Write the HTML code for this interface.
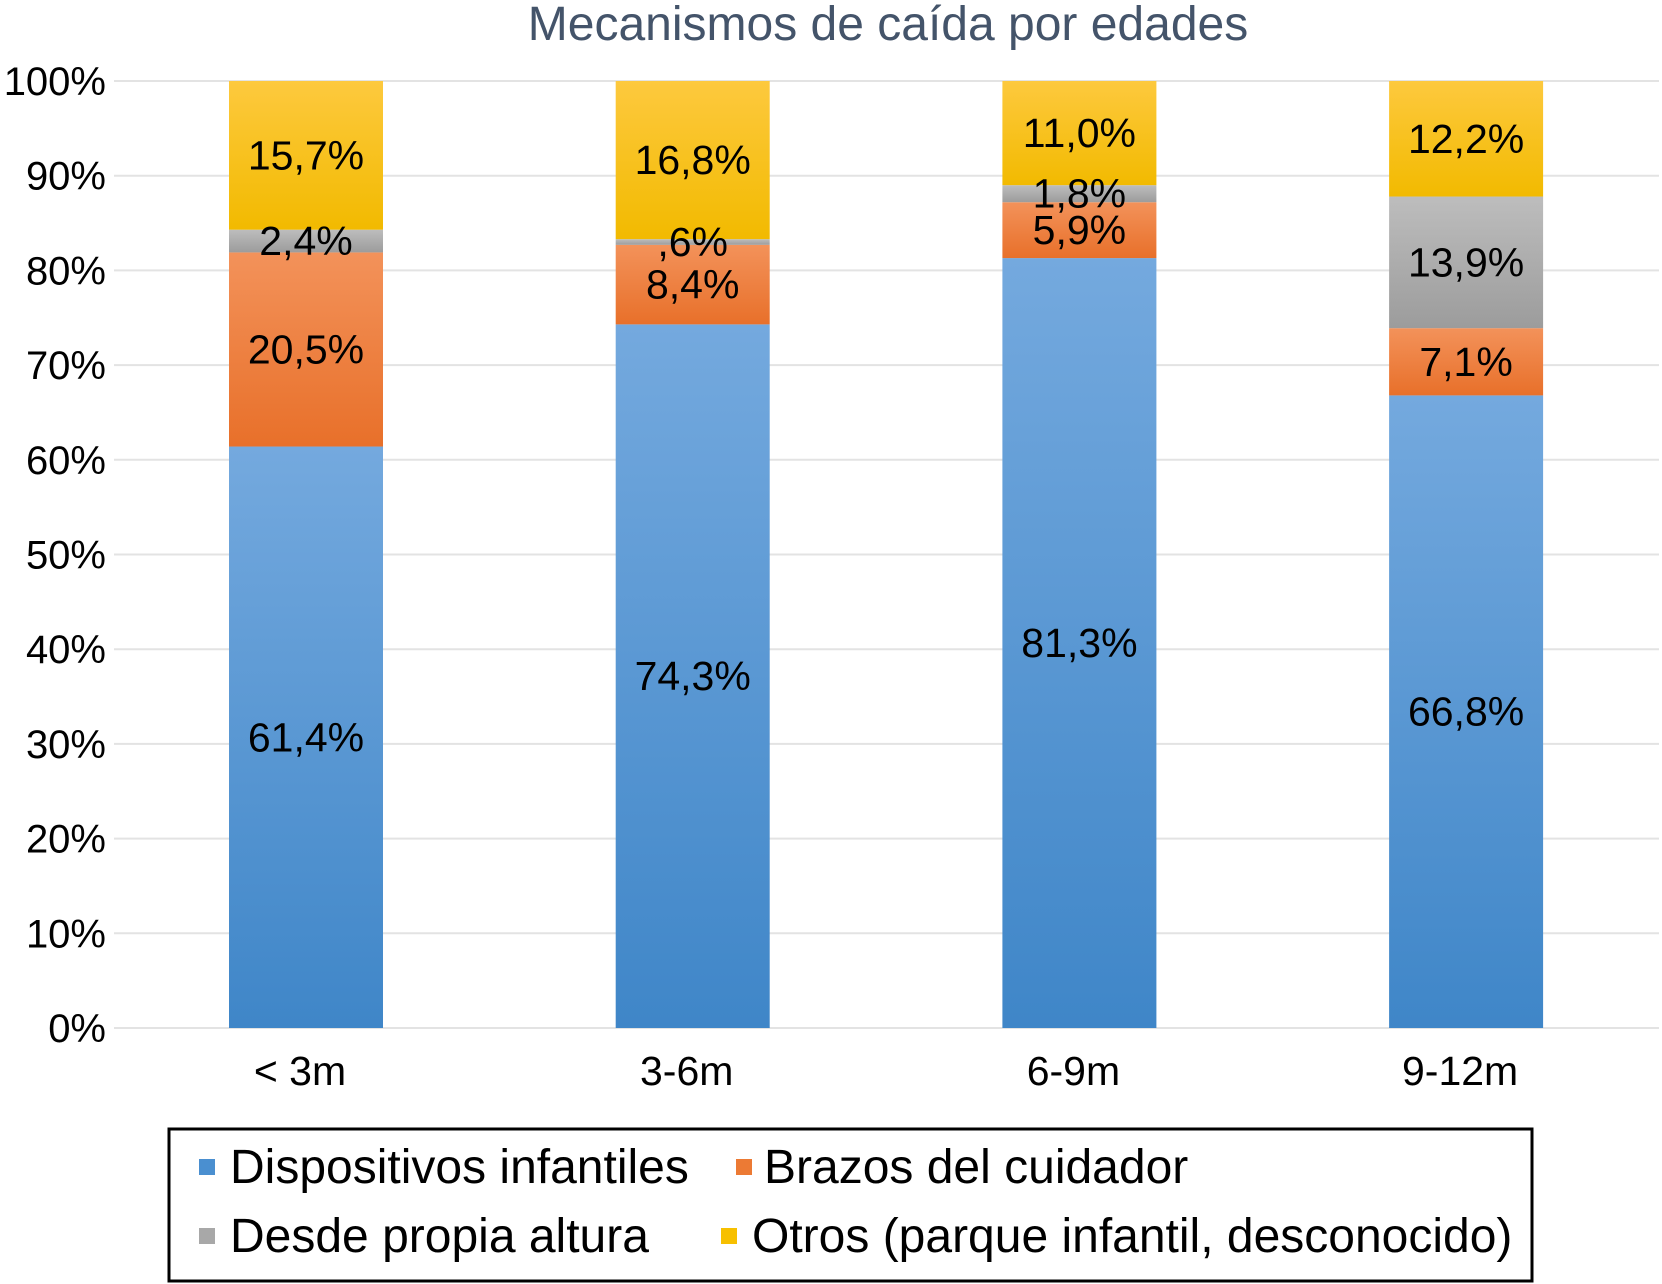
<!DOCTYPE html>
<html><head><meta charset="utf-8"><style>
body{margin:0;background:#fff;}
svg{display:block;font-family:"Liberation Sans",Arial,sans-serif;}
</style></head><body>
<svg id="chart" width="1662" height="1284" viewBox="0 0 1662 1284">
<defs>
<linearGradient id="gBlue" x1="0" y1="0" x2="0" y2="1"><stop offset="0" stop-color="#74a9de"/><stop offset="1" stop-color="#3f86c8"/></linearGradient>
<linearGradient id="gOrange" x1="0" y1="0" x2="0" y2="1"><stop offset="0" stop-color="#f3925a"/><stop offset="1" stop-color="#e8702a"/></linearGradient>
<linearGradient id="gGray" x1="0" y1="0" x2="0" y2="1"><stop offset="0" stop-color="#bdbdbd"/><stop offset="1" stop-color="#9c9c9c"/></linearGradient>
<linearGradient id="gYellow" x1="0" y1="0" x2="0" y2="1"><stop offset="0" stop-color="#fdc93e"/><stop offset="1" stop-color="#f2ba00"/></linearGradient>
</defs>
<text x="888" y="40" text-anchor="middle" font-size="48" fill="#44546a">Mecanismos de caída por edades</text>
<g id="grid"></g><g id="bars"></g><g id="labels"></g>
<g>
<rect x="169" y="1129" width="1363" height="152" fill="#fff" stroke="#000" stroke-width="3"/>
<rect x="199" y="1159" width="16" height="16" fill="#4a8fd0"/>
<text x="230" y="1183" font-size="48">Dispositivos infantiles</text>
<rect x="736" y="1159" width="16" height="16" fill="#ec7a34"/>
<text x="764" y="1183" font-size="48">Brazos del cuidador</text>
<rect x="199" y="1228" width="16" height="16" fill="#a8a8a8"/>
<text x="230" y="1252" font-size="48">Desde propia altura</text>
<rect x="721" y="1228" width="16" height="16" fill="#f7c000"/>
<text x="752" y="1252" font-size="48">Otros (parque infantil, desconocido)</text>
</g>
</svg>
<script>
const categories = ["< 3m", "3-6m", "6-9m", "9-12m"];
const dispositivos = [61.4, 74.3, 81.3, 66.8];
const brazos = [20.5, 8.4, 5.9, 7.1];
const desde = [2.4, 0.6, 1.8, 13.9];
const otros = [15.7, 16.8, 11.0, 12.2];
const yTicks = [0, 10, 20, 30, 40, 50, 60, 70, 80, 90, 100];

const NS = "http://www.w3.org/2000/svg";
const y0 = 1028, y100 = 81, plotL = 114, plotR = 1659;
const barW = 154;
function yScale(v){ return y0 - (v / 100) * (y0 - y100); }
function xCenter(i){ return 306 + i * 386.7; }
function fmt(v){ let s = v.toFixed(1).replace('.', ','); if (s.startsWith('0,')) s = s.slice(1); return s + '%'; }
function mk(tag, attrs, parent){ const e = document.createElementNS(NS, tag); for (const k in attrs) e.setAttribute(k, attrs[k]); parent.appendChild(e); return e; }

const grid = document.getElementById('grid');
yTicks.forEach(t => {
  const y = yScale(t);
  const l = mk('line', {x1: plotL, x2: plotR, y1: y, y2: y, stroke: '#e3e3e3', 'stroke-width': 2}, grid);
  
  
  const tx = mk('text', {x: 106, y: y + 14, 'text-anchor': 'end', 'font-size': 40, fill: '#000'}, grid);
  tx.textContent = t + '%';
  
  
});

const series = [
  {vals: dispositivos, fill: 'url(#gBlue)', name: 'dispositivos'},
  {vals: brazos, fill: 'url(#gOrange)', name: 'brazos'},
  {vals: desde, fill: 'url(#gGray)', name: 'desde'},
  {vals: otros, fill: 'url(#gYellow)', name: 'otros'}
];
const bars = document.getElementById('bars'), labels = document.getElementById('labels');
categories.forEach((c, i) => {
  const cx = xCenter(i);
  let cum = 0;
  series.forEach(s => {
    const v = s.vals[i];
    const top = Math.min(cum + v, 100);
    const yT = yScale(top), yB = yScale(cum);
    const r = mk('rect', {x: cx - barW / 2, y: yT, width: barW, height: Math.max(0, yB - yT), fill: s.fill}, bars);
    
    
    const t = mk('text', {x: cx, y: (yT + yB) / 2 + 14, 'text-anchor': 'middle', 'font-size': 41, fill: '#000'}, labels);
    t.textContent = fmt(v);
    
    
    cum += v;
  });
  const xl = mk('text', {x: cx - 6, y: 1085, 'text-anchor': 'middle', 'font-size': 41, fill: '#000'}, labels);
  xl.textContent = c;
  
  
});
</script>
</body></html>
